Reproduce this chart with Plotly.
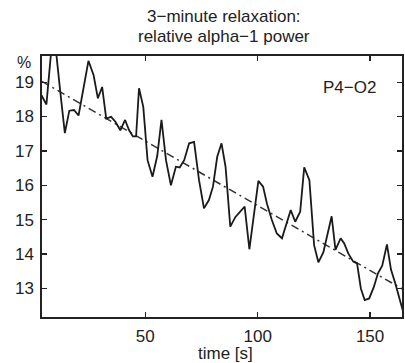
import plotly.graph_objects as go

# time series (s) and relative alpha-1 power (%)
time_s = [3.8, 6.0, 8.2, 10.2, 12.2, 14.2, 16.2, 18.3, 20.3, 22.5, 24.7, 27.0, 28.9, 30.8,
          32.6, 34.8, 36.7, 38.9, 41.0, 42.8, 44.5, 45.9, 47.2, 49.1, 51.0, 53.2, 55.3,
          57.2, 59.2, 61.4, 63.6, 65.3, 67.3, 69.5, 71.7, 73.9, 76.1, 78.3, 80.1, 82.0,
          83.9, 85.7, 87.8, 90.1, 92.3, 94.2, 96.3, 98.3, 100.3, 102.4, 104.1, 106.3,
          108.5, 110.8, 112.7, 114.7, 116.7, 118.9, 120.7, 123.0, 125.1, 127.0, 129.2,
          131.1, 132.9, 134.6, 136.9, 138.5, 140.3, 142.5, 144.2, 145.9, 147.6, 149.6,
          151.6, 153.5, 155.4, 157.5, 159.3, 161.2, 163.2, 165.0]
power = [18.62, 18.35, 19.95, 19.95, 18.7, 17.52, 18.17, 18.19, 18.03, 18.8, 19.62, 19.2,
         18.53, 18.86, 17.94, 17.99, 17.85, 17.6, 17.9, 17.6, 17.42, 17.42, 18.82, 18.28,
         16.73, 16.25, 16.85, 17.9, 16.73, 16.0, 16.54, 16.52, 16.73, 17.22, 17.26, 16.15,
         15.33, 15.57, 15.96, 16.83, 17.22, 16.54, 14.8, 15.08, 15.23, 15.38, 14.14, 15.1,
         16.13, 15.96, 15.47, 14.99, 14.6, 14.46, 14.84, 15.28, 14.94, 15.23, 16.52, 16.15,
         14.26, 13.76, 14.05, 14.6, 15.1, 14.12, 14.46, 14.31, 14.02, 13.78, 13.73, 13.0,
         12.66, 12.71, 13.03, 13.44, 13.66, 14.28, 13.55, 13.15, 12.7, 12.25]

# linear trend endpoints
trend_x = [4.0, 164.5]
trend_y = [19.02, 12.98]

x_ticks = [50, 100, 150]
y_ticks = [13, 14, 15, 16, 17, 18, 19]

title_lines = ["3−minute relaxation:", "relative alpha−1 power"]

FONT = "Liberation Sans, Arial, Helvetica, sans-serif"
INK = "#222222"
FS = 17

fig = go.Figure()
fig.add_trace(go.Scatter(x=trend_x, y=trend_y, mode="lines",
                         line=dict(color="#333333", width=1.5, dash="8px,4px,2px,4px"),
                         hoverinfo="skip"))
fig.add_trace(go.Scatter(x=time_s, y=power, mode="lines",
                         line=dict(color="#1a1a1a", width=1.8), hoverinfo="skip"))

fig.update_layout(
    width=405, height=363,
    margin=dict(l=42, r=1, t=56, b=46),
    paper_bgcolor="white", plot_bgcolor="white",
    showlegend=False,
    font=dict(family=FONT, size=FS, color=INK),
)
fig.update_xaxes(range=[4.04, 164.2], tickvals=x_ticks, ticks="inside", ticklen=5,
                 tickwidth=1.2, tickcolor=INK, showline=True, linewidth=1.6,
                 linecolor=INK, mirror="ticks", showgrid=False, zeroline=False,
                 tickfont=dict(size=FS, color=INK), ticklabelstandoff=3)
fig.update_yaxes(range=[12.17, 19.76], tickvals=y_ticks, ticks="inside", ticklen=5,
                 tickwidth=1.2, tickcolor=INK, showline=True, linewidth=1.6,
                 linecolor=INK, mirror="ticks", showgrid=False, zeroline=False,
                 tickfont=dict(size=FS, color=INK), ticklabelstandoff=3)

for line, shift in zip(title_lines, [39.5, 20]):
    fig.add_annotation(text=line, xref="paper", yref="paper", x=0.5055, y=1,
                       xanchor="center", yanchor="middle", yshift=shift,
                       showarrow=False, font=dict(size=FS, color=INK))
fig.add_annotation(text="%", xref="paper", yref="paper", x=0, y=1,
                   xanchor="right", yanchor="middle", xshift=-9, yshift=-6,
                   showarrow=False, font=dict(size=16, color=INK))
fig.add_annotation(text="P4−O2", xref="x", yref="y", x=140.7, y=18.85,
                   xanchor="center", yanchor="middle", showarrow=False,
                   font=dict(size=FS, color=INK))
fig.add_annotation(text="time [s]", xref="paper", yref="paper", x=0.51, y=0,
                   xanchor="center", yanchor="middle", yshift=-36,
                   showarrow=False, font=dict(size=FS, color=INK))

fig.write_html("out.html", config={"displayModeBar": False, "staticPlot": True},
               post_script="document.body.style.margin='0';document.body.style.overflow='hidden';")
